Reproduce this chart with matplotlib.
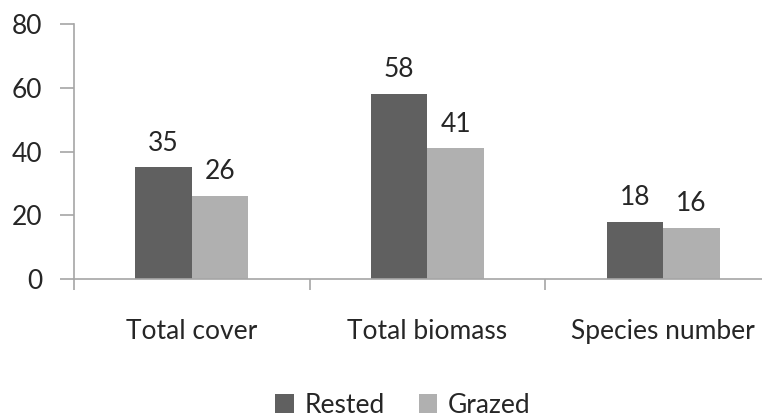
import matplotlib
matplotlib.use("Agg")
import matplotlib.pyplot as plt
import numpy as np
from matplotlib.patches import Patch

categories = ["Total cover", "Total biomass", "Species number"]
rested = [35, 58, 18]
grazed = [26, 41, 16]
yticks = [0, 20, 40, 60, 80]

dark = "#606060"
light = "#b0b0b0"
axis_col = "#a6a6a6"
text_col = "#262626"
fs = 19

plt.rcParams["font.family"] = ["Lato", "DejaVu Sans"]

W, H = 762, 419
fig = plt.figure(figsize=(W / 100, H / 100), dpi=100)
ax = fig.add_axes([74 / W, 1 - 279 / H, (781 - 74) / W, (279 - 24) / H])

x = np.arange(len(categories))
bw = 0.24
b1 = ax.bar(x - bw / 2, rested, bw, color=dark, edgecolor="none")
b2 = ax.bar(x + bw / 2, grazed, bw, color=light, edgecolor="none")

for bars, vals in ((b1, rested), (b2, grazed)):
    for rect, v in zip(bars, vals):
        ax.annotate(str(v), (rect.get_x() + rect.get_width() / 2, v),
                    xytext=(0, 12), textcoords="offset points",
                    ha="center", va="baseline", fontsize=fs, color=text_col)

ax.set_xlim(-0.5, len(categories) - 0.5)
ax.set_ylim(0, 80)
ax.set_yticks(yticks)
ax.set_yticklabels([str(t) for t in yticks], fontsize=fs, color=text_col)

ax.set_xticks(x)
ax.set_xticklabels(categories, fontsize=fs, color=text_col)
ax.set_xticks(np.arange(len(categories) + 1) - 0.5, minor=True)
ax.tick_params(axis="x", which="major", length=0, pad=29)
ax.tick_params(axis="x", which="minor", length=8, width=1.2, color=axis_col, direction="out")
ax.tick_params(axis="y", length=10, width=1.2, color=axis_col, direction="out", pad=13)

for s in ("top", "right"):
    ax.spines[s].set_visible(False)
for s in ("left", "bottom"):
    ax.spines[s].set_color(axis_col)
    ax.spines[s].set_linewidth(1.2)

handles = [Patch(facecolor=dark, label="Rested"), Patch(facecolor=light, label="Grazed")]
fig.legend(handles=handles, loc="center", bbox_to_anchor=(403 / W, 1 - 405 / H),
           ncol=2, frameon=False, fontsize=fs, handlelength=0.7, handleheight=0.7,
           handletextpad=0.4, columnspacing=1.3, labelcolor=text_col)

fig.savefig("out.png", dpi=100)
